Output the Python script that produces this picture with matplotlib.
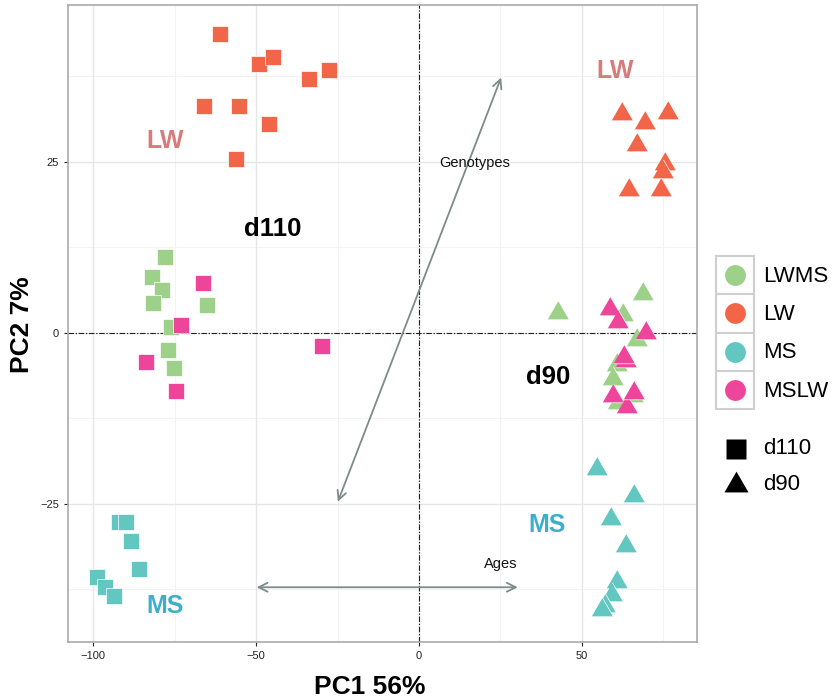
import matplotlib
matplotlib.use("Agg")
import matplotlib.pyplot as plt
from matplotlib.patches import Rectangle

plt.rcParams['font.family'] = ['Liberation Sans', 'DejaVu Sans']

# ---------------- data ----------------
genotypes = ["LWMS", "LW", "MS", "MSLW"]
colors = {"LWMS": "#9DD088", "LW": "#F26549", "MS": "#62C6C1", "MSLW": "#EE4499"}

# d110 (squares)
d110_LW_x = [-61.0, -49.2, -44.7, -33.6, -27.5, -65.9, -55.2, -46.1, -56.1]
d110_LW_y = [43.6, 39.3, 40.3, 37.1, 38.4, 33.2, 33.2, 30.5, 25.4]
d110_LWMS_x = [-78.0, -81.8, -79.0, -81.5, -65.0, -76.0, -77.0, -75.2]
d110_LWMS_y = [11.0, 8.2, 6.3, 4.3, 4.1, 0.8, -2.5, -5.2]
d110_MSLW_x = [-66.4, -73.1, -29.7, -83.7, -74.6]
d110_MSLW_y = [7.3, 1.2, -1.9, -4.3, -8.5]
d110_MS_x = [-92.1, -90.0, -88.3, -85.9, -98.9, -96.3, -93.5]
d110_MS_y = [-27.7, -27.6, -30.4, -34.5, -35.7, -37.2, -38.5]

# d90 (triangles)
d90_LW_x = [62.4, 69.2, 76.5, 67.0, 75.4, 74.8, 64.3, 74.3]
d90_LW_y = [31.9, 30.7, 32.1, 27.4, 24.7, 23.5, 20.9, 20.8]
d90_LWMS_x = [42.6, 68.7, 62.7, 66.8, 60.6, 59.4, 61.1, 65.8]
d90_LWMS_y = [2.9, 5.6, 2.6, -1.0, -4.7, -6.8, -10.3, -9.3]
d90_MSLW_x = [58.6, 61.0, 69.6, 63.5, 63.0, 59.6, 63.7, 66.0]
d90_MSLW_y = [3.5, 1.5, 0.0, -4.2, -3.5, -9.2, -10.9, -8.8]
d90_MS_x = [54.7, 66.0, 58.9, 63.6, 60.8, 59.3, 57.0, 56.3]
d90_MS_y = [-19.9, -23.8, -27.2, -31.1, -36.4, -38.3, -40.0, -40.5]

x_ticks = [-100, -50, 0, 50]
y_ticks = [-25, 0, 25]

# annotations
genotype_arrow = [(-24.9, -24.7), (25.2, 37.3)]
ages_arrow = [(-49.8, -37.2), (30.3, -37.2)]

# ---------------- figure ----------------
fig = plt.figure(figsize=(8.38, 6.99), dpi=100)
ax = fig.add_axes([68/838, 1-642/699, (697-68)/838, (642-5)/699])
ax.set_xlim(-107.7, 85.3)
ax.set_ylim(-45.2, 47.9)

# grid
for v in [-75, -25, 25, 75]:
    ax.axvline(v, color="#f3f3f3", lw=0.8, zorder=0)
for v in [-37.5, -12.5, 12.5, 37.5]:
    ax.axhline(v, color="#f3f3f3", lw=0.8, zorder=0)
for v in x_ticks:
    ax.axvline(v, color="#e6e6e6", lw=1.0, zorder=0)
for v in y_ticks:
    ax.axhline(v, color="#e6e6e6", lw=1.0, zorder=0)

# reference lines
dd = (0, (5, 1.5, 1.2, 1.5))
ax.axvline(0, color="#222222", lw=0.8, ls=dd, zorder=1)
ax.axhline(0, color="#222222", lw=0.8, ls=dd, zorder=1)

tri = [(-1, -0.577), (1, -0.577), (0, 1.155)]

def sq(x, y, g):
    ax.scatter(x, y, marker="s", s=125, color=colors[g], edgecolors="white",
               linewidths=0.5, zorder=3)

def tr(x, y, g):
    ax.scatter(x, y, marker=tri, s=330, color=colors[g], edgecolors="white",
               linewidths=0.5, zorder=3)

sq(d110_LW_x, d110_LW_y, "LW")
sq(d110_LWMS_x, d110_LWMS_y, "LWMS")
sq(d110_MSLW_x, d110_MSLW_y, "MSLW")
sq(d110_MS_x, d110_MS_y, "MS")
tr(d90_LW_x, d90_LW_y, "LW")
tr(d90_LWMS_x, d90_LWMS_y, "LWMS")
tr(d90_MSLW_x, d90_MSLW_y, "MSLW")
tr(d90_MS_x, d90_MS_y, "MS")

arrow_color = "#7d8b8b"
ax.annotate("", xy=genotype_arrow[1], xytext=genotype_arrow[0],
            arrowprops=dict(arrowstyle="<->", color=arrow_color, lw=1.3,
                            mutation_scale=16, shrinkA=0, shrinkB=0), zorder=2)
ax.annotate("", xy=ages_arrow[1], xytext=ages_arrow[0],
            arrowprops=dict(arrowstyle="<->", color=arrow_color, lw=1.3,
                            mutation_scale=16, shrinkA=0, shrinkB=0), zorder=2)
ax.text(17.2, 24.8, "Genotypes", fontsize=10.5, ha="center", va="center", color="#111111")
ax.text(25.2, -33.8, "Ages", fontsize=10.5, ha="center", va="center", color="#111111")

lw_col = "#D77B7B"
ms_col = "#3DAFCB"
ax.text(-77.9, 28.0, "LW", fontsize=18, fontweight="bold", color=lw_col, ha="center", va="center")
ax.text(60.3, 38.2, "LW", fontsize=18, fontweight="bold", color=lw_col, ha="center", va="center")
ax.text(-77.9, -40.0, "MS", fontsize=18, fontweight="bold", color=ms_col, ha="center", va="center")
ax.text(39.2, -28.1, "MS", fontsize=18, fontweight="bold", color=ms_col, ha="center", va="center")
ax.text(-45.0, 15.1, "d110", fontsize=18.5, fontweight="bold", color="black", ha="center", va="center")
ax.text(39.5, -6.5, "d90", fontsize=18.5, fontweight="bold", color="black", ha="center", va="center")

ax.set_xticks(x_ticks)
ax.set_xticklabels([str(t).replace("-", "\u2212") for t in x_ticks])
ax.set_yticks(y_ticks)
ax.set_yticklabels([str(t).replace("-", "\u2212") for t in y_ticks])
ax.tick_params(labelsize=8, colors="#222222", length=3, width=0.8)
for s in ax.spines.values():
    s.set_color("#aaaaaa")
    s.set_linewidth(1.2)

fig.text(370/838, 1-687/699, "PC1 56%", fontsize=19, fontweight="bold", ha="center", va="center")
fig.text(22/838, 1-325/699, "PC2 7%", fontsize=19, fontweight="bold", ha="center", va="center",
         rotation=90)

# ---------------- legend (manual, in pixel coords) ----------------
lax = fig.add_axes([0, 0, 1, 1], facecolor="none")
lax.set_xlim(0, 838)
lax.set_ylim(699, 0)
lax.axis("off")
cell_top = 256
cell_h = 38.3
for i, g in enumerate(genotypes):
    y0 = cell_top + i * cell_h
    lax.add_patch(Rectangle((716, y0), 38, cell_h, facecolor="white",
                            edgecolor="#cfcfcf", lw=1.5))
    lax.plot([735], [y0 + cell_h/2], marker="o", ms=15, color=colors[g], mec="none")
    lax.text(763, y0 + cell_h/2 + 1, g, fontsize=16, va="center", ha="left", color="black")
lax.plot([735.5], [449], marker="s", ms=14, color="black", mec="none")
lax.text(763, 449, "d110", fontsize=16, va="center", ha="left")
lax.plot([735.5], [485], marker=tri, ms=20, color="black", mec="none")
lax.text(763, 485, "d90", fontsize=16, va="center", ha="left")

fig.savefig("out.png", dpi=100)
